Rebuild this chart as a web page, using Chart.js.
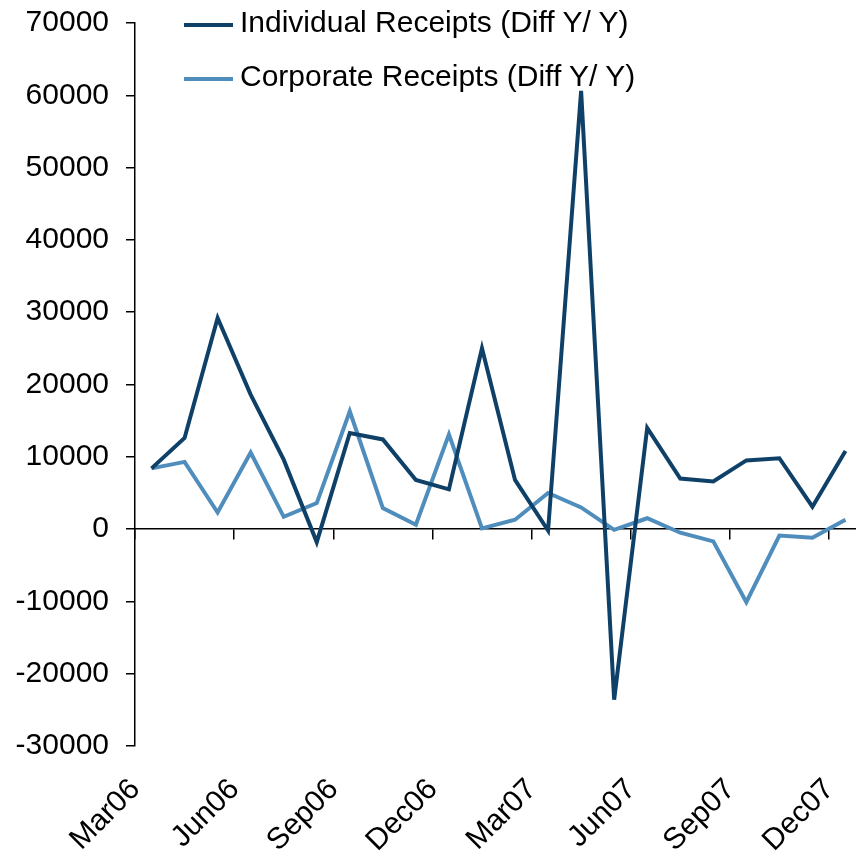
<!DOCTYPE html>
<html>
<head>
<meta charset="utf-8">
<script src="https://cdn.jsdelivr.net/npm/chart.js@4"></script>
<style>
  html, body { margin: 0; padding: 0; background: #fff; overflow: hidden; }
  #wrap { position: relative; width: 862px; height: 857px; }
  #legend { position: absolute; left: 0; top: 0; font: 30px "Liberation Sans", Arial, sans-serif; color: #000; }
  .item { position: absolute; left: 184px; height: 36px; line-height: 36px; display: flex; align-items: center; white-space: nowrap; }
  .swatch { width: 49px; height: 4px; margin-right: 7px; position: relative; top: 3px; }
</style>
</head>
<body>
<div id="wrap">
  <canvas id="chart" width="862" height="857"></canvas>
  <div id="legend"></div>
</div>
<script>
"use strict";

const MONTHS = [
  "Mar06", "Apr06", "May06", "Jun06", "Jul06", "Aug06", "Sep06", "Oct06", "Nov06", "Dec06",
  "Jan07", "Feb07", "Mar07", "Apr07", "May07", "Jun07", "Jul07", "Aug07", "Sep07", "Oct07", "Nov07", "Dec07",
];

const INDIVIDUAL = [
  8400, 12600, 29200, 18600, 9600, -1800, 13300, 12400, 6800, 5500,
  25000, 6800, -200, 60600, -23600, 14000, 7000, 6600, 9500, 9800, 3100, 10800,
];

const CORPORATE = [
  8400, 9300, 2300, 10600, 1700, 3600, 16300, 2900, 600, 13100,
  100, 1300, 5000, 3000, -100, 1500, -500, -1700, -10100, -900, -1200, 1300,
];

const SERIES_NAMES = ["Individual Receipts (Diff Y/ Y)", "Corporate Receipts (Diff Y/ Y)"];
const COLORS = ["#0f4168", "#4f8dbd"];

const Y_MIN = -30000;
const Y_MAX = 70000;
const Y_STEP = 10000;
const LABEL_EVERY = 3;

Chart.defaults.font.family = '"Liberation Sans", Arial, sans-serif';
Chart.defaults.font.size = 30;
Chart.defaults.color = "#000";

function ds(label, data, color) {
  return {
    label, data,
    borderColor: color, backgroundColor: color,
    borderWidth: 4, pointRadius: 0, tension: 0,
  };
}

const chart = new Chart(document.getElementById("chart"), {
  type: "line",
  data: {
    labels: MONTHS,
    datasets: [
      ds(SERIES_NAMES[0], INDIVIDUAL, COLORS[0]),
      ds(SERIES_NAMES[1], CORPORATE, COLORS[1]),
    ],
  },
  options: {
    responsive: false,
    animation: false,
    devicePixelRatio: 1,
    layout: { padding: { top: 23, left: 0, right: 0, bottom: 0 } },
    plugins: { legend: { display: false }, tooltip: { enabled: false } },
    scales: {
      x: {
        type: "category",
        offset: true,
        grid: { display: false, drawTicks: false, offset: true },
        border: { display: false },
        ticks: {
          autoSkip: false,
          maxRotation: 45,
          minRotation: 45,
          padding: 26,
          labelOffset: -16,
          callback: (v, i) => (i % LABEL_EVERY === 0 ? MONTHS[i] : ""),
        },
        afterFit: (s) => { s.height = 111; s.paddingLeft = 0; s.paddingRight = 0; },
      },
      // zero line with quarter tick marks
      x2: {
        type: "category",
        axis: "x",
        position: { y: 0 },
        offset: true,
        grid: {
          display: true,
          drawOnChartArea: false,
          drawTicks: true,
          offset: true,
          tickLength: 10,
          lineWidth: 1.5,
          tickColor: (ctx) => (ctx.index % LABEL_EVERY === 0 ? "#000" : "rgba(0,0,0,0)"),
        },
        border: { display: true, color: "#000", width: 1.5 },
        ticks: { display: false, autoSkip: false },
      },
      y: {
        min: Y_MIN,
        max: Y_MAX,
        grid: { drawOnChartArea: false, tickLength: 9, tickColor: "#000", lineWidth: 1.5 },
        border: { display: true, color: "#000", width: 1.5 },
        ticks: { stepSize: Y_STEP, padding: 17, callback: (v) => String(v) },
        afterFit: (s) => { s.width = 135; s.paddingTop = 0; s.paddingBottom = 0; },
      },
    },
  },
});

// legend drawn as html text inside the plot area
const legend = document.getElementById("legend");
chart.data.datasets.forEach((d, i) => {
  const row = document.createElement("div");
  row.className = "item";
  row.style.top = (3.6 + i * 54) + "px";
  const sw = document.createElement("span");
  sw.className = "swatch";
  sw.style.background = d.borderColor;
  const tx = document.createElement("span");
  tx.textContent = d.label;
  row.appendChild(sw);
  row.appendChild(tx);
  legend.appendChild(row);
});
</script>
</body>
</html>
